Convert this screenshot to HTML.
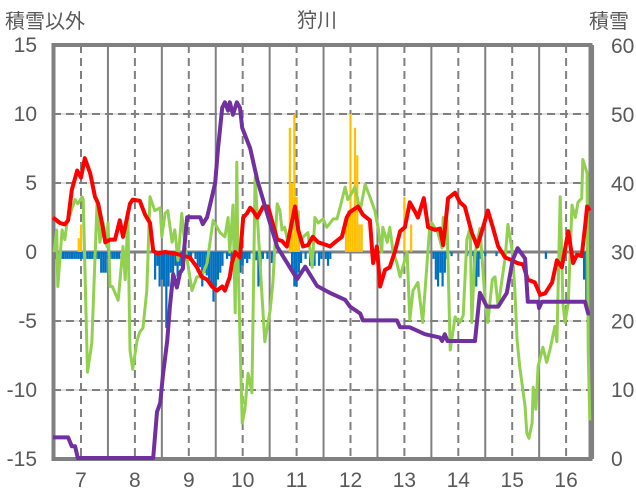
<!DOCTYPE html>
<html><head><meta charset="utf-8"><style>
body{margin:0;background:#fff}
svg{display:block}
text{font-family:"Liberation Sans","Noto Sans CJK JP",sans-serif;fill:#595959}
</style></head><body>
<svg id="chart" width="636" height="501" viewBox="0 0 636 501" xmlns="http://www.w3.org/2000/svg">
<text x="5" y="28" font-size="20">積雪以外</text>
<text x="317" y="27" font-size="20" text-anchor="middle">狩川</text>
<text x="589" y="28" font-size="20">積雪</text>
<g id="grid"></g><g id="bars"></g>
<rect x="53.5" y="45" width="537" height="414" fill="none" stroke="#808080" stroke-width="4"/>
<g id="lines"></g><g id="ticks"></g>
</svg>
<script>
const leftTicks=[15,10,5,0,-5,-10,-15];
const rightTicks=[60,50,40,30,20,10,0];
const dayLabels=[7,8,9,10,11,12,13,14,15,16];
const redDays=[6.48,6.61,6.70,6.76,6.83,6.93,7.00,7.07,7.17,7.26,7.32,7.39,7.45,7.54,7.63,7.72,7.78,7.91,7.96,8.09,8.19,8.28,8.34,8.41,8.56,8.74,9.02,9.15,9.24,9.34,9.43,9.52,9.62,9.67,9.76,9.80,9.86,9.95,10.01,10.08,10.14,10.19,10.27,10.38,10.47,10.54,10.64,10.73,10.82,10.91,10.97,11.03,11.12,11.21,11.30,11.40,11.56,11.62,11.71,11.84,11.93,11.99,12.14,12.23,12.36,12.42,12.49,12.55,12.64,12.73,12.83,12.92,13.01,13.10,13.20,13.25,13.36,13.44,13.57,13.66,13.72,13.81,13.94,14.03,14.12,14.25,14.35,14.46,14.55,14.64,14.74,14.87,15.00,15.09,15.20,15.29,15.42,15.52,15.61,15.74,15.83,15.92,16.04,16.13,16.20,16.29,16.35,16.39,16.44];
const redVals=[2.5,2.1,2.0,2.3,4.5,5.9,5.4,6.8,5.7,4.0,3.5,2.1,0.7,0.9,0.9,2.3,1.1,3.5,3.8,3.7,2.7,2.1,0.1,-0.1,0,-0.1,-0.4,-1.1,-1.8,-2.0,-2.5,-2.8,-2.5,-2.8,-1.8,-0.8,0,-0.4,2.5,2.8,3.2,3.0,2.5,3.3,3.3,2.3,0.9,0.8,0.4,2.1,3.3,1.6,0.4,0.5,1.1,0.7,0.5,0.4,0.7,1.1,2.5,2.9,3.3,2.7,2.3,-0.8,0.4,-2.5,-1.3,-1.1,0.1,1.5,1.8,3.6,2.9,2.5,3.9,1.8,1.6,1.7,0.5,3.9,4.3,3.6,3.3,1.4,0.4,1.8,3.0,1.8,0.4,-0.4,-0.6,-0.8,-0.9,-2.0,-2.2,-3.1,-3.0,-2.2,-0.6,-1.1,1.5,-0.8,-0.2,-0.3,1.8,3.3,3.0];
const snowDays=[6.48,6.76,6.83,6.89,6.94,8.34,8.41,8.47,8.52,8.60,8.65,8.71,8.78,8.84,8.89,8.91,8.97,9.21,9.26,9.34,9.43,9.49,9.54,9.62,9.67,9.73,9.76,9.82,9.89,9.95,9.99,10.14,10.27,10.45,10.64,11.01,11.16,11.38,11.62,11.90,11.99,12.18,12.23,12.86,12.92,13.10,13.38,13.66,13.70,13.75,13.80,14.31,14.40,14.53,14.74,14.90,15.01,15.10,15.24,15.29,15.48,15.50,15.55,16.35,16.41,16.44];
const snowVals=[3,3,1.7,1.7,0,0,6.7,8,12,17,22,26.7,24.8,27,27.5,30,35,35,34,35,38,40,44.8,50.9,51.7,50.5,51.7,49.9,51.7,50.9,48,45,40.4,35.6,30.7,26,27.8,25,24,23,22,21,20,20,19,19,18,17.5,17,18,17,17,24,22,22,24,28.8,30.5,29,22.7,22.7,21.8,22.7,22.7,21,21];
const greenDays=[6.50,6.55,6.57,6.65,6.70,6.74,6.89,6.94,7.02,7.04,7.12,7.20,7.30,7.35,7.41,7.48,7.50,7.54,7.58,7.69,7.78,7.82,7.87,7.91,7.96,8.04,8.09,8.15,8.22,8.28,8.37,8.47,8.50,8.56,8.61,8.69,8.74,8.80,8.87,8.93,8.99,9.06,9.15,9.24,9.34,9.45,9.58,9.67,9.73,9.76,9.82,9.86,9.89,9.91,9.99,10.04,10.10,10.17,10.23,10.28,10.36,10.41,10.51,10.56,10.64,10.69,10.73,10.78,10.84,10.91,10.97,11.01,11.06,11.12,11.21,11.29,11.34,11.40,11.49,11.56,11.68,11.75,11.81,11.90,11.95,12.03,12.08,12.18,12.27,12.36,12.45,12.51,12.58,12.60,12.68,12.73,12.79,12.86,12.92,12.97,13.05,13.10,13.16,13.25,13.34,13.47,13.51,13.62,13.70,13.72,13.79,13.85,13.94,14.03,14.09,14.16,14.22,14.25,14.31,14.40,14.50,14.55,14.63,14.68,14.74,14.81,14.87,14.92,15.00,15.05,15.09,15.14,15.24,15.27,15.31,15.37,15.39,15.44,15.48,15.57,15.64,15.70,15.79,15.83,15.89,15.94,15.98,16.04,16.11,16.17,16.22,16.29,16.31,16.39,16.41,16.44];
const greenVals=[0,1.6,-2.5,1.6,0.9,2.1,3.8,3.5,4.0,3.8,-8.7,-6.6,3.8,0.7,2.1,0.4,2.1,-2.5,-2.5,-3.5,0.4,-2.0,2.5,-7.1,-8.5,-6.4,-5.8,-5.5,-2.8,4.0,3.0,3.2,1.1,2.8,3.0,0.7,1.6,-0.6,2.8,0.4,-1.1,-2.8,-1.8,-1.8,-0.8,2.3,1.4,1.1,2.5,0,3.4,-4.4,6.5,0,-12.4,-11.4,-8.8,-10.2,5.4,2.0,-3.3,-6.5,-4.2,-2.2,3.5,3.0,1.6,1.8,0.7,1.6,2.1,3.0,0.7,1.1,1.4,-1.1,2.5,2.1,2.4,1.8,2.4,2.4,3.3,4.7,3.8,4.3,4.7,3.0,4.9,4.0,3.0,1.8,0,1.8,0.7,1.8,0,-0.8,-1.8,-1.1,0,-4.9,-2.8,-2.2,-5.1,1.8,2.1,1.4,0.3,2.5,2.3,-7.1,-4.7,-5.1,-4.6,0.9,1.8,-5.1,-0.1,1.7,-3.7,-5.1,-2.0,-1.8,-4.0,-2.0,-0.4,2.0,0.1,-2.8,-6.4,-8.3,-11.2,-13.1,-13.5,-12.4,-9.8,-11.4,-8.3,-6.9,-8.0,-7.1,-5.4,-6.5,4.0,-3.7,-5.1,-3.7,3.4,2.5,3.6,3.9,6.7,5.7,-7.1,-12.2];
const blueHours=[0,1,2,3,4,5,6,7,8,9,10,11,12,13,14,15,16,17,18,19,20,21,22,23,24,25,26,27,28,29,32,45,46,47,48,49,50,51,52,53,54,55,56,57,58,59,60,61,63,64,65,66,67,68,69,70,71,72,73,74,75,77,78,79,80,82,83,84,85,86,87,89,90,91,92,93,95,97,106,107,108,109,110,112,114,116,118,119,121,122,123,169,170,171,172,173,174,175,177,184,186,187,188,189,190,192,197,219,236,237,238];
const blueVals=[-0.5,-0.5,-0.5,-0.5,-0.5,-0.5,-0.5,-0.5,-0.5,-0.5,-0.5,-0.5,-0.5,-0.5,-0.5,-0.5,-0.5,-0.5,-0.5,-0.5,-0.5,-1.5,-1.5,-1.5,-0.5,-0.5,-0.5,-0.5,-0.5,-0.5,-0.5,-2,-1,-2.5,-2,-2.5,-5.5,-2.5,-1.5,-2.5,-1,-1.8,-1,-1.5,-0.5,-0.6,-0.3,-0.6,-0.5,-1,-1.1,-2.5,-1.5,-1.7,-2,-2.5,-3.6,-2.5,-2,-1.5,-1,-0.5,-0.3,-0.8,-0.5,-0.5,-1.5,-1,-0.5,-0.8,-0.5,-0.8,-0.6,-2.5,-1,-0.5,-0.5,-0.8,-1.5,-2.5,-2.5,-1.5,-0.8,-0.5,-1,-1,-1,-0.5,-0.5,-1,-0.5,-0.5,-2,-2.5,-1.5,-2.5,-1.5,-0.5,-0.3,-0.3,-0.3,-1.5,-2.5,-1.8,-0.5,-0.3,-0.3,-0.5,-2,-3.5,-1.5];
const orangeHours=[11,12,105,106,107,108,109,130,131,132,133,134,135,136,137,156,159];
const orangeVals=[1,2,9,5,10,4,3,2,3,10,3,9,7,2,2,4,2];

const NS="http://www.w3.org/2000/svg";
const X0=81, DX=53.9, YL0=252, YPX=13.8;
function xDay(d){return X0+(d-7)*DX;}
function yL(v){return YL0-v*YPX;}
function yR(s){return 458-s*6.88;}
function hourDay(i){return 6.5+i/24;}
function mk(tag,attrs,parent){const e=document.createElementNS(NS,tag);for(const k in attrs)e.setAttribute(k,attrs[k]);parent.appendChild(e);return e;}
const grid=document.getElementById('grid'),bars=document.getElementById('bars'),lines=document.getElementById('lines'),ticks=document.getElementById('ticks');

leftTicks.forEach((v,i)=>{
  if(v!==15&&v!==-15&&v!==0){
    const g1=mk('line',{x1:53,x2:590,y1:yL(v),y2:yL(v),stroke:'#d9d9d9','stroke-width':1.5},grid);
    
    
    const g=mk('line',{x1:53,x2:590,y1:yL(v),y2:yL(v),stroke:'#808080','stroke-width':2,'stroke-dasharray':'8,5'},grid);
    
    
  }
  const t=mk('text',{x:37,y:yL(v)+7,'font-size':21,'text-anchor':'end'},ticks);
  t.textContent=String(v);
  
  
});
rightTicks.forEach(s=>{
  const t=mk('text',{x:611,y:yR(s)+8,'font-size':21},ticks);
  t.textContent=String(s);
  
  
});
dayLabels.forEach(d=>{
  const g=mk('line',{x1:xDay(d),x2:xDay(d),y1:45,y2:459,stroke:'#808080','stroke-width':2,'stroke-dasharray':'8,5'},grid);
  
  
  if(d<16.4){
    const s=mk('line',{x1:xDay(d+0.5),x2:xDay(d+0.5),y1:45,y2:459,stroke:'#808080','stroke-width':2},grid);
    
    
  }
  const t=mk('text',{x:xDay(d),y:487,'font-size':21,'text-anchor':'middle'},ticks);
  t.textContent=String(d);
  
  
});
const z=mk('line',{x1:53,x2:590,y1:yL(0),y2:yL(0),stroke:'#808080','stroke-width':3},grid);



blueHours.forEach((h,i)=>{
  const v=blueVals[i];
  const r=mk('rect',{x:xDay(hourDay(h))-1.1,y:yL(0),width:2.2,height:yL(v)-yL(0),fill:'#0070c0'},bars);
  
  
});
orangeHours.forEach((h,i)=>{
  const v=orangeVals[i];
  const r=mk('rect',{x:xDay(hourDay(h))-1.1,y:yL(v),width:2.2,height:yL(0)-yL(v),fill:'#ffc000'},bars);
  
  
});
function path(days,vals,yf,color,w,name){
  const d=days.map((x,i)=>(i?'L':'M')+xDay(x).toFixed(1)+','+yf(vals[i]).toFixed(1)).join('');
  const p=mk('path',{d:d,fill:'none',stroke:color,'stroke-width':w,'stroke-linejoin':'round'},lines);
  
  
}
path(greenDays,greenVals,yL,'#92d050',3,'green-series-line');
path(redDays,redVals,yL,'#ff0000',4,'red-series-line');
path(snowDays,snowVals,yR,'#7030a0',4,'snow-depth-line');
</script>
</body></html>
